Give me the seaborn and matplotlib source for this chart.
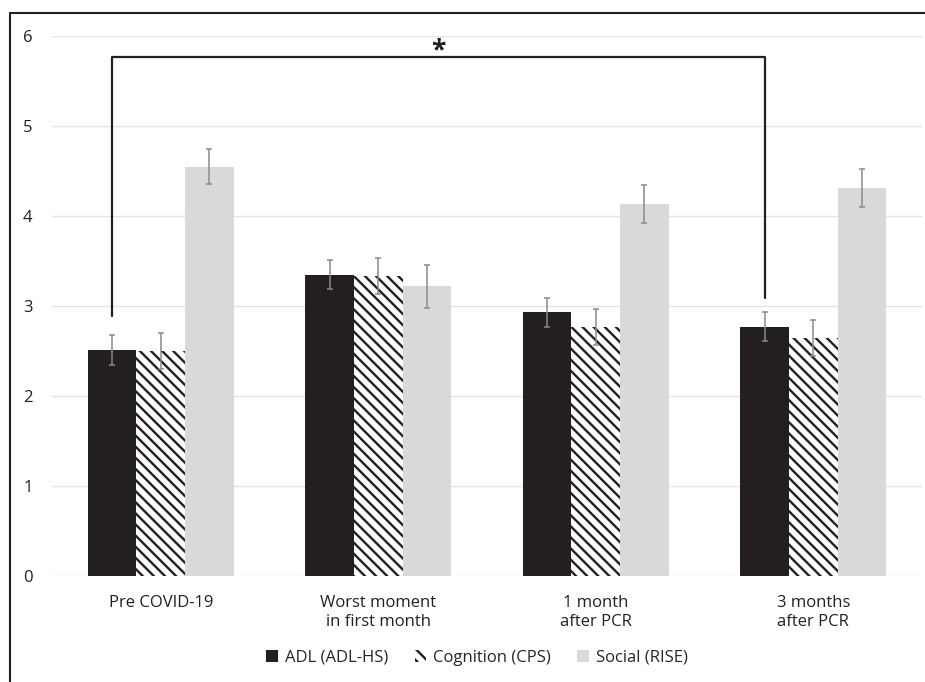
import numpy as np
import pandas as pd
import matplotlib
matplotlib.use('Agg')
import matplotlib.pyplot as plt
from matplotlib.lines import Line2D
import seaborn as sns

# values
times = ['Pre COVID-19', 'Worst moment\nin first month', '1 month\nafter PCR', '3 months\nafter PCR']
domains = ['ADL (ADL-HS)', 'Cognition (CPS)', 'Social (RISE)']
adl = [2.51, 3.35, 2.93, 2.77]
cognition = [2.50, 3.33, 2.77, 2.65]
social = [4.55, 3.22, 4.13, 4.31]
adl_err = [0.17, 0.16, 0.16, 0.16]
cognition_err = [0.20, 0.20, 0.20, 0.20]
social_err = [0.19, 0.24, 0.21, 0.21]

df = pd.DataFrame({
    'time': times * 3,
    'domain': [domains[0]] * 4 + [domains[1]] * 4 + [domains[2]] * 4,
    'score': adl + cognition + social,
})
errs = [adl_err, cognition_err, social_err]

sns.set_style('white')
plt.rcParams['font.family'] = ['Open Sans', 'DejaVu Sans']
plt.rcParams['hatch.linewidth'] = 1.7

dark = '#231f20'
light = '#d9d9db'
palette = {domains[0]: dark, domains[1]: 'white', domains[2]: light}

fig = plt.figure(figsize=(9.25, 6.82), dpi=100)
ax = fig.add_axes([52/925, 106/682, 870/925, 540/682])

sns.barplot(data=df, x='time', y='score', hue='domain', palette=palette,
            width=0.67, errorbar=None, ax=ax, legend=False, saturation=1)

bar_groups = list(ax.containers)
for i, cont in enumerate(bar_groups):
    for j, bar in enumerate(cont):
        bar.set_linewidth(0)
        if i == 1:
            bar.set_edgecolor(dark)
            bar.set_hatch('\\\\\\')
        xc = bar.get_x() + bar.get_width() / 2
        ax.errorbar(xc, bar.get_height(), yerr=errs[i][j], color='#8a8a8a',
                    lw=1.1, capsize=2.5, capthick=1.1, zorder=5)

ax.set_ylim(0, 6)
ax.set_xlim(-0.5, 3.5)
ax.set_yticks(range(7))
ax.yaxis.grid(True, color='#e4e4e4', lw=1)
ax.set_axisbelow(True)
sns.despine(ax=ax, left=True, bottom=True)
ax.tick_params(axis='both', length=0, labelsize=12, colors='#231f20')
ax.tick_params(axis='y', pad=14)
ax.tick_params(axis='x', pad=14)
ax.set_xlabel('')
ax.set_ylabel('')

# significance bracket between pre-COVID and 3 months ADL
b0 = bar_groups[0][0]
b3 = bar_groups[0][3]
x0 = b0.get_x() + b0.get_width() / 2
x3 = b3.get_x() + b3.get_width() / 2
ax.plot([x0, x0, x3, x3], [2.89, 5.77, 5.77, 3.09], color=dark, lw=1.6,
        clip_on=False, zorder=6)
ax.text((x0 + x3) / 2, 5.84, '*', ha='center', va='center', fontsize=19,
        fontweight='bold', color=dark)

# legend
handles = [plt.Rectangle((0, 0), 1, 1, facecolor=dark, lw=0),
           plt.Rectangle((0, 0), 1, 1, facecolor='white', edgecolor=dark, lw=0, hatch='\\\\\\'),
           plt.Rectangle((0, 0), 1, 1, facecolor=light, lw=0)]
fig.legend(handles, domains, loc='center', bbox_to_anchor=(477/925, 1 - 658/682),
           ncol=3, frameon=False, fontsize=12, handlelength=0.7, handleheight=0.7,
           handletextpad=0.4, columnspacing=1.6)

# frame lines on left and top
fig.add_artist(Line2D([10/925, 10/925], [0, 1 - 13/682], color=dark, lw=1.5))
fig.add_artist(Line2D([10/925, 1], [1 - 13/682, 1 - 13/682], color=dark, lw=1.5))

fig.savefig('out.png', dpi=100)
